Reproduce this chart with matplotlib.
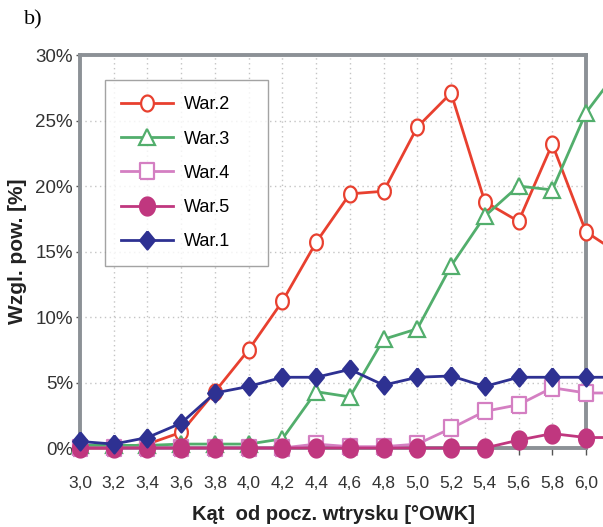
import numpy as np
import matplotlib
matplotlib.use("Agg")
import matplotlib.pyplot as plt
from matplotlib.ticker import FuncFormatter, MultipleLocator

# crank angle from start of injection [deg CA]; last point lies past the axis edge
angle = [3.0, 3.2, 3.4, 3.6, 3.8, 4.0, 4.2, 4.4, 4.6, 4.8, 5.0, 5.2, 5.4, 5.6, 5.8, 6.0, 6.2]

war2 = [0.0, 0.0, 0.3, 1.2, 4.3, 7.5, 11.2, 15.7, 19.4, 19.6, 24.5, 27.1, 18.8, 17.3, 23.2, 16.5, 14.8]
war3 = [0.2, 0.2, 0.2, 0.3, 0.3, 0.3, 0.7, 4.3, 3.9, 8.3, 9.1, 13.9, 17.7, 20.0, 19.7, 25.6, 29.0]
war4 = [0.0, 0.0, 0.0, 0.0, 0.0, 0.0, 0.0, 0.3, 0.1, 0.1, 0.3, 1.5, 2.8, 3.3, 4.6, 4.2, 4.2]
war5 = [0.0, 0.0, 0.0, 0.0, 0.0, 0.0, 0.0, 0.0, 0.0, 0.0, 0.0, 0.0, 0.0, 0.6, 1.1, 0.8, 0.8]
war1 = [0.5, 0.3, 0.8, 1.9, 4.2, 4.7, 5.4, 5.4, 6.0, 4.8, 5.4, 5.5, 4.7, 5.4, 5.4, 5.4, 5.4]

labels = ["War.2", "War.3", "War.4", "War.5", "War.1"]
colors = ["#e8402f", "#52ae6c", "#d47fc2", "#c0377f", "#2e3192"]


def ellipse(ratio):
    t = np.linspace(0, 2 * np.pi, 40)
    return list(zip(ratio * np.cos(t), np.sin(t)))


def box(ratio):
    return [(-ratio, -1), (ratio, -1), (ratio, 1), (-ratio, 1), (-ratio, -1)]


diamond = [(0, 1), (0.82, 0), (0, -1), (-0.82, 0), (0, 1)]

styles = [
    dict(marker=ellipse(0.8), ms=11.5, mfc="white"),
    dict(marker="^", ms=11, mfc="white"),
    dict(marker=box(0.88), ms=12, mfc="white"),
    dict(marker=ellipse(0.83), ms=13, mfc=colors[3]),
    dict(marker=diamond, ms=13, mfc=colors[4]),
]

fig = plt.figure(figsize=(6.03, 5.27), dpi=100)
ax = fig.add_axes([0.1327, 0.1499, 0.8391, 0.7457])

series = [war2, war3, war4, war5, war1]
for i, (ys, lab, col, st) in enumerate(zip(series, labels, colors, styles)):
    ax.plot(angle, ys, color=col, lw=2.0, mec=col, mew=1.6, label=lab,
            clip_on=False, zorder=3 + i, **st)

ax.set_xlim(3.0, 6.0)
ax.set_ylim(0, 30)
ax.xaxis.set_major_locator(MultipleLocator(0.2))
ax.yaxis.set_major_locator(MultipleLocator(5))
ax.xaxis.set_major_formatter(FuncFormatter(lambda v, p: f"{v:.1f}".replace(".", ",")))
ax.yaxis.set_major_formatter(FuncFormatter(lambda v, p: f"{v:.0f}%"))

spine_col = "#8c9196"
for s in ax.spines.values():
    s.set_color(spine_col)
    s.set_linewidth(2.8)

ax.grid(True, color="#c4c4c4", ls=(0, (1, 2.5)), lw=1.0)
ax.set_axisbelow(True)
ax.tick_params(axis="x", direction="out", length=5, width=1, color="#555555",
               pad=15, labelsize=12.5, labelcolor="#333333")
ax.tick_params(axis="y", direction="out", length=3, width=1, color="#555555",
               pad=2, labelsize=13.5, labelcolor="#333333")
for lbl in ax.get_xticklabels() + ax.get_yticklabels():
    lbl.set_family("Liberation Sans")

ax.set_xlabel("Kąt  od pocz. wtrysku [°OWK]", family="Liberation Sans",
              weight="bold", size=14.5, color="#222222", labelpad=10)
ax.set_ylabel("Wzgl. pow. [%]", family="Liberation Sans",
              weight="bold", size=15, color="#222222", labelpad=6)

leg = ax.legend(loc="upper left", bbox_to_anchor=(0.049, 0.936, 0.322, 0),
                mode="expand", borderaxespad=0, fancybox=False,
                handlelength=2.9, handletextpad=0.6, labelspacing=0.95,
                borderpad=0.9, prop={"family": "Liberation Sans", "size": 13})
leg.get_frame().set_edgecolor("#8c8c8c")
leg.get_frame().set_linewidth(1.0)
leg.set_zorder(10)

fig.text(0.04, 0.962, "b)", family="Liberation Serif", size=16, va="center")

fig.savefig("out.png", dpi=100)
